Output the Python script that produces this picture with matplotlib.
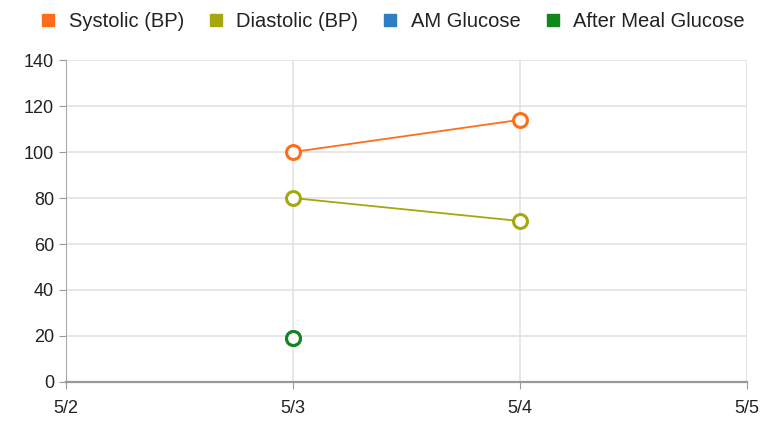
import matplotlib
matplotlib.use("Agg")
import matplotlib.pyplot as plt
from matplotlib.lines import Line2D

plt.rcParams["font.family"] = ["Liberation Sans", "DejaVu Sans"]

dates = ["5/2", "5/3", "5/4", "5/5"]
systolic_x = [1, 2]
systolic = [100, 114]
diastolic_x = [1, 2]
diastolic = [80, 70]
am_glucose_x = [1]
am_glucose = [19]
after_meal_x = [1]
after_meal = [19]

series = [
    ("Systolic (BP)", systolic_x, systolic, "#ff6d1a"),
    ("Diastolic (BP)", diastolic_x, diastolic, "#a5a70e"),
    ("AM Glucose", am_glucose_x, am_glucose, "#2f7ec1"),
    ("After Meal Glucose", after_meal_x, after_meal, "#10871a"),
]

fig = plt.figure(figsize=(7.65, 4.23), dpi=100)
ax = fig.add_axes([0.0863, 0.097, 0.8897, 0.761])

for name, xs, ys, c in series:
    ax.plot(xs, ys, color=c, linewidth=1.3, marker="o", markersize=10,
            markerfacecolor="white", markeredgewidth=2.2, zorder=3)

ax.set_xlim(0, 3)
ax.set_ylim(0, 140)
ax.set_xticks(range(len(dates)))
ax.set_xticklabels(dates)
ax.set_yticks(range(0, 141, 20))
ax.grid(True, color="#e3e3e3", linewidth=1.2)
ax.set_axisbelow(True)
for s in ["top", "right"]:
    ax.spines[s].set_visible(False)
ax.spines["left"].set_color("#aaaaaa")
ax.spines["bottom"].set_color("#999999")
ax.spines["bottom"].set_linewidth(1.6)
ax.tick_params(colors="#999999", labelcolor="#222222", labelsize=13, length=5)
ax.tick_params(axis="x", pad=8)

handles = [Line2D([], [], marker="s", linestyle="none", color=c, markersize=8)
           for _, _, _, c in series]
fig.legend(handles, [s[0] for s in series], loc="upper center",
           bbox_to_anchor=(0.505, 1.015), ncol=4, frameon=False, fontsize=14.5,
           handletextpad=0.0, columnspacing=0.6, labelcolor="#222222")

fig.savefig("out.png", dpi=100)
